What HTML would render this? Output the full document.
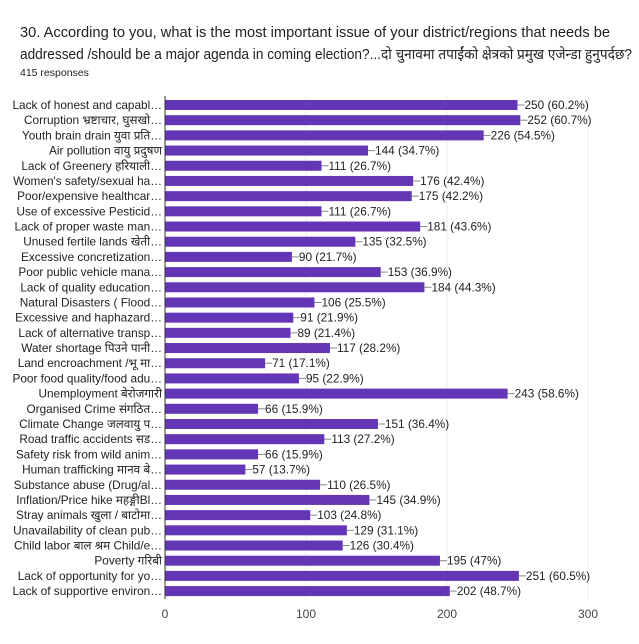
<!DOCTYPE html>
<html><head><meta charset="utf-8"><style>
body{margin:0;background:#fff;width:639px;height:644px;overflow:hidden;font-family:"Liberation Sans","Noto Sans CJK SC",sans-serif}
svg{position:absolute;left:0;top:0}
</style></head><body>
<svg id="chart" width="639" height="644">
<text x="20" y="37" font-size="14.3" fill="#202124" textLength="590" lengthAdjust="spacingAndGlyphs">30. According to you, what is the most important issue of your district/regions that needs be</text>
<text x="20" y="59" font-size="14.3" fill="#202124" textLength="612" lengthAdjust="spacingAndGlyphs">addressed /should be a major agenda in coming election?...दो चुनावमा तपाईंको क्षेत्रको प्रमुख एजेन्डा हुनुपर्दछ?</text>
<text x="20" y="76" font-size="10.5" fill="#202124">415 responses</text>
<g id="grid"></g><g id="bars"></g><g id="labels"></g><g id="ticks"></g>
<line x1="165" y1="96" x2="165" y2="599" stroke="#333" stroke-width="1"/>
</svg>
<script>
const categories=["Lack of honest and capabl…","Corruption भ्रष्टाचार, घुसखो…","Youth brain drain युवा प्रति…","Air pollution वायु प्रदुषण","Lack of Greenery हरियाली…","Women's safety/sexual ha…","Poor/expensive healthcar…","Use of excessive Pesticid…","Lack of proper waste man…","Unused fertile lands खेती…","Excessive concretization…","Poor public vehicle mana…","Lack of quality education…","Natural Disasters ( Flood…","Excessive and haphazard…","Lack of alternative transp…","Water shortage पिउने पानी…","Land encroachment /भू मा…","Poor food quality/food adu…","Unemployment बेरोजगारी","Organised Crime संगठित…","Climate Change जलवायु प…","Road traffic accidents सड…","Safety risk from wild anim…","Human trafficking मानव बे…","Substance abuse (Drug/al…","Inflation/Price hike महङ्गीBl…","Stray animals खुला / बाटोमा…","Unavailability of clean pub…","Child labor बाल श्रम Child/e…","Poverty गरिबी","Lack of opportunity for yo…","Lack of supportive environ…"];
const counts=[250,252,226,144,111,176,175,111,181,135,90,153,184,106,91,89,117,71,95,243,66,151,113,66,57,110,145,103,129,126,195,251,202];
const percents=["60.2","60.7","54.5","34.7","26.7","42.4","42.2","26.7","43.6","32.5","21.7","36.9","44.3","25.5","21.9","21.4","28.2","17.1","22.9","58.6","15.9","36.4","27.2","15.9","13.7","26.5","34.9","24.8","31.1","30.4","47","60.5","48.7"];
const tickValues=[0,100,200,300];
const NS="http://www.w3.org/2000/svg";
const x0=165,pxPer=423/300,y0=105,pitch=15.19,bh=10;
const xs=v=>x0+v*pxPer, ys=i=>y0+i*pitch;
function mk(t,a){const e=document.createElementNS(NS,t);for(const k in a)e.setAttribute(k,a[k]);return e;}
const grid=document.getElementById('grid'),bars=document.getElementById('bars'),labels=document.getElementById('labels'),ticks=document.getElementById('ticks');
tickValues.forEach(v=>{
 if(v>0){const g=mk('line',{x1:xs(v),x2:xs(v),y1:96,y2:599,stroke:'#ebebeb'});
 
 grid.appendChild(g);}
 const t=mk('text',{x:xs(v),y:618,'font-size':12,fill:'#444','text-anchor':'middle'});t.textContent=v;
 
 ticks.appendChild(t);
});
categories.forEach((c,i)=>{
 const y=ys(i);
 const r=mk('rect',{x:x0,y:y-bh/2,width:xs(counts[i])-x0,height:bh,fill:'#6236b4'});
 
 bars.appendChild(r);
 const l=mk('text',{x:x0-3,y:y+4,'font-size':11.8,fill:'#222','text-anchor':'end'});l.textContent=c;
 
 labels.appendChild(l);
 const ln=mk('line',{x1:xs(counts[i]),x2:xs(counts[i])+7,y1:y,y2:y,stroke:'#888'});
 
 labels.appendChild(ln);
 const v=mk('text',{x:xs(counts[i])+7,y:y+4,'font-size':11.8,fill:'#222'});v.textContent=counts[i]+' ('+percents[i]+'%)';
 
 labels.appendChild(v);
});
</script>
</body></html>
